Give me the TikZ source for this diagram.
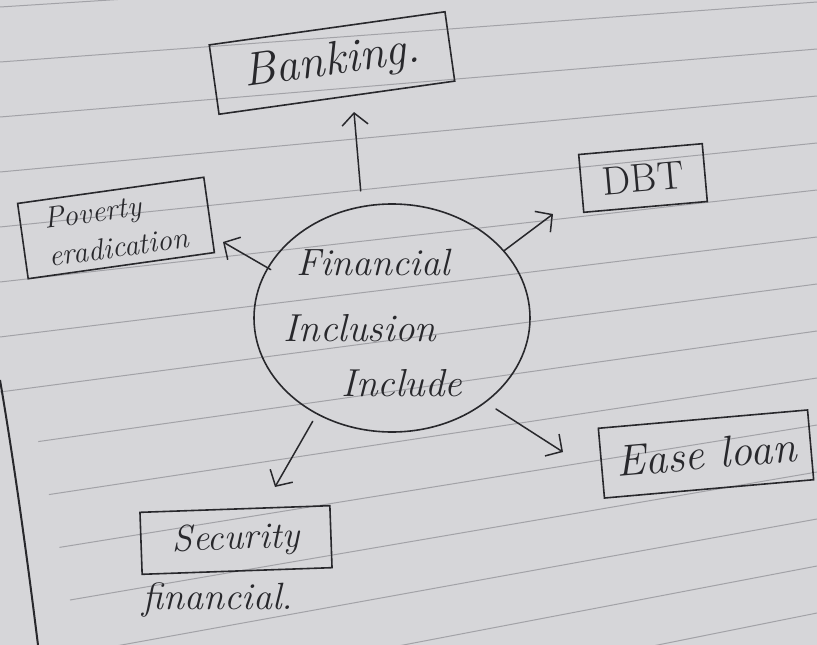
\documentclass[tikz,border=0pt]{standalone}
\usetikzlibrary{arrows.meta,shapes.geometric}
\definecolor{paper}{RGB}{214,214,217}
\definecolor{ink}{RGB}{40,40,44}
\definecolor{rulecol}{RGB}{120,120,126}
\begin{document}
\begin{tikzpicture}[x=1pt,y=-1pt,
  hand/.style={font=\itshape\fontsize{#1}{#1}\selectfont, text=ink},
  hand/.default=38,
  box/.style={draw=ink, line width=1.6pt, inner sep=0pt},
  arr/.style={draw=ink, line width=1.5pt, line cap=round,
    -{Straight Barb[length=12pt,width=26pt,line width=1.5pt]}},
  ruled/.style={draw=rulecol, line width=1pt, opacity=0.55}
 ]
\useasboundingbox (0,0) rectangle (817,645);
\fill[paper] (0,0) rectangle (817,645);
% ruled lines of the paper
\begin{scope}
  \clip (0,-60) -- (0,400) -- (30,400) -- (80,650) -- (820,650) -- (820,-60) -- cycle;
  \foreach \k in {-1,...,14} {
    \draw[ruled] (0,{62+55*\k}) -- (817,{2+47*\k});
  }
\end{scope}
% margin line
\draw[ink, line width=2pt] (0,380) .. controls (12,450) and (25,540) .. (38,645);

% central bubble
\node[ellipse, draw=ink, line width=1.6pt, minimum width=276pt, minimum height=228pt, inner sep=0pt] (fi) at (392,318) {};
\node[hand=38] (fi1) at (373,263) {Financial};
\node[hand=39] (fi2) at (360,328) {Inclusion};
\node[hand=39] (fi3) at (402,383) {Include};

% boxes
\node[box, hand=47, rotate=8, minimum width=238pt, minimum height=70pt] (bank) at (332,63) {Banking.};
\node[box, font=\fontsize{40}{40}\selectfont, text=ink, rotate=5, minimum width=124pt, minimum height=58pt] (dbt) at (643,178) {DBT};
\node[box, font=\itshape\fontsize{30}{38}\selectfont, text=ink, rotate=8, align=left, minimum width=188pt, minimum height=76pt] (pov) at (116,228) {Poverty\\eradication};
\node[box, hand=44, rotate=5, minimum width=210pt, minimum height=70pt] (ease) at (706,454) {Ease loan};
\node[box, hand=37, rotate=2, minimum width=190pt, minimum height=62pt] (sec) at (236,540) {Security};
\node[hand=38] (fin) at (218,600) {financial.};

% arrow tips
\coordinate (bankTip) at (354,112);
\coordinate (dbtTip) at (553,214);
\coordinate (povTip) at (223,242);
\coordinate (easeTip) at (563,452);
\coordinate (secTip) at (275,487);

\draw[arr, shorten <=15pt] (fi.105) -- (bankTip);
\draw[arr] (fi.31) -- (dbtTip);
\draw[arr, shorten <=-4pt] (fi.158) -- (povTip);
\draw[arr, shorten <=12pt] (fi.-42) -- (easeTip);
\draw[arr, shorten <=8pt] (fi.-128) -- (secTip);
\end{tikzpicture}
\end{document}
